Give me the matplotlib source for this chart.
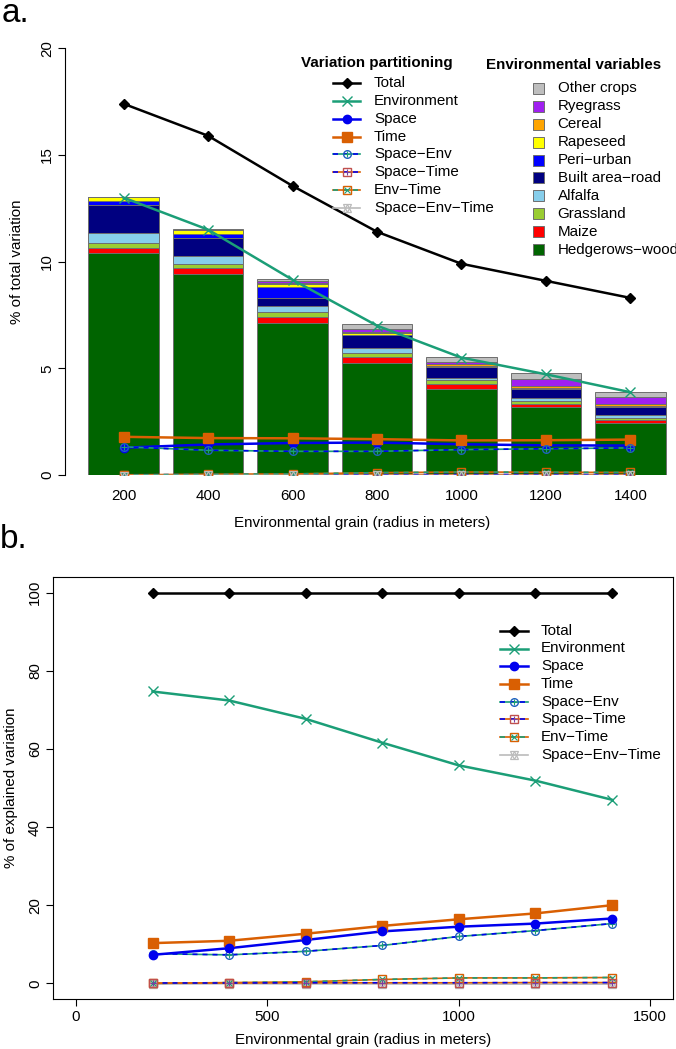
import numpy as np
import matplotlib.pyplot as plt
from matplotlib.patches import Rectangle

plt.rcParams['font.family'] = ['Liberation Sans', 'DejaVu Sans']
FS = 10.9

grain = [200, 400, 600, 800, 1000, 1200, 1400]

# panel a: % of total variation (lines)
total_a = [17.4, 15.9, 13.55, 11.4, 9.9, 9.1, 8.3]
env_a = [13.0, 11.5, 9.15, 7.0, 5.5, 4.72, 3.88]
space_a = [1.28, 1.43, 1.50, 1.52, 1.44, 1.39, 1.38]
time_a = [1.79, 1.73, 1.72, 1.68, 1.62, 1.63, 1.66]
space_env_a = [1.32, 1.16, 1.11, 1.11, 1.19, 1.23, 1.27]
space_time_a = [0.01, 0.02, 0.02, 0.02, 0.02, 0.02, 0.02]
env_time_a = [0.0, 0.03, 0.05, 0.11, 0.14, 0.13, 0.12]
space_env_time_a = [-0.03, -0.02, -0.02, -0.02, -0.02, -0.02, -0.02]

# panel a: environmental variables (stacked bars, bottom to top)
hedgerows = [10.40, 9.41, 7.14, 5.26, 4.03, 3.21, 2.46]
maize = [0.22, 0.27, 0.28, 0.28, 0.24, 0.13, 0.12]
grassland = [0.24, 0.23, 0.24, 0.18, 0.17, 0.14, 0.08]
alfalfa = [0.48, 0.36, 0.26, 0.24, 0.10, 0.13, 0.16]
built = [1.33, 0.82, 0.36, 0.58, 0.50, 0.43, 0.39]
periurban = [0.16, 0.20, 0.55, 0.03, 0.02, 0.02, 0.02]
rapeseed = [0.19, 0.19, 0.14, 0.10, 0.04, 0.02, 0.02]
cereal = [0.0, 0.02, 0.04, 0.05, 0.08, 0.08, 0.10]
ryegrass = [0.0, 0.0, 0.08, 0.12, 0.12, 0.36, 0.30]
other_crops = [0.02, 0.05, 0.08, 0.24, 0.22, 0.24, 0.24]

layers = [
    ('Hedgerows\u2212wood', hedgerows, '#006400'),
    ('Maize', maize, '#FF0000'),
    ('Grassland', grassland, '#9ACD32'),
    ('Alfalfa', alfalfa, '#87CEEB'),
    ('Built area\u2212road', built, '#000080'),
    ('Peri\u2212urban', periurban, '#0000FF'),
    ('Rapeseed', rapeseed, '#FFFF00'),
    ('Cereal', cereal, '#FFA500'),
    ('Ryegrass', ryegrass, '#A020F0'),
    ('Other crops', other_crops, '#BEBEBE'),
]

# panel b: % of explained variation
total_b = [100, 100, 100, 100, 100, 100, 100]
env_b = [74.7, 72.4, 67.7, 61.6, 55.8, 51.9, 47.0]
space_b = [7.3, 9.0, 11.1, 13.3, 14.5, 15.3, 16.6]
time_b = [10.3, 10.9, 12.7, 14.7, 16.4, 17.9, 20.0]
space_env_b = [7.6, 7.3, 8.2, 9.7, 12.0, 13.5, 15.3]
space_time_b = [0.1, 0.1, 0.15, 0.15, 0.15, 0.2, 0.2]
env_time_b = [0.0, 0.2, 0.4, 1.0, 1.4, 1.4, 1.5]
space_env_time_b = [-0.2, -0.1, -0.15, -0.15, -0.2, -0.2, -0.2]

names = ['Total', 'Environment', 'Space', 'Time',
         'Space\u2212Env', 'Space\u2212Time', 'Env\u2212Time', 'Space\u2212Env\u2212Time']

TEAL, BLUE, ORANGE, GREY = '#1B9E77', '#0000EE', '#D95F02', '#BBBBBB'
DASH = (0, (3, 3))
styles = {
    'Total': ([('black', '-', 1.8)],
              [dict(marker='D', ms=5, mfc='black', mec='black')]),
    'Environment': ([(TEAL, '-', 1.8)],
                    [dict(marker='x', ms=7, mec=TEAL, mew=1.0)]),
    'Space': ([(BLUE, '-', 1.8)],
              [dict(marker='o', ms=6, mfc=BLUE, mec=BLUE)]),
    'Time': ([(ORANGE, '-', 1.8)],
             [dict(marker='s', ms=6.5, mfc=ORANGE, mec=ORANGE)]),
    'Space\u2212Env': ([(TEAL, '-', 1.2), (BLUE, DASH, 1.2)],
                       [dict(marker='o', ms=5.5, mfc='none', mec='#2060C0', mew=1.0),
                        dict(marker='+', ms=4, mec=TEAL, mew=0.8)]),
    'Space\u2212Time': ([(ORANGE, '-', 1.2), (BLUE, DASH, 1.2)],
                        [dict(marker='s', ms=5.5, mfc='none', mec='#C0504D', mew=1.0),
                         dict(marker='+', ms=4, mec='#7B3FA0', mew=0.8)]),
    'Env\u2212Time': ([(ORANGE, '-', 1.2), (TEAL, DASH, 1.2)],
                      [dict(marker='s', ms=5.5, mfc='none', mec=ORANGE, mew=1.0),
                       dict(marker='x', ms=4, mec=TEAL, mew=0.8)]),
    'Space\u2212Env\u2212Time': ([(GREY, '-', 1.2)],
                                 [dict(marker='^', ms=6, mfc='none', mec=GREY, mew=0.9),
                                  dict(marker='v', ms=6, mfc='none', mec=GREY, mew=0.9)]),
}


def draw(ax, x, y, name, mx=None, my=None, z=5):
    lines, markers = styles[name]
    for color, ls, lw in lines:
        ax.plot(x, y, color=color, ls=ls, lw=lw, zorder=z)
    mx = x if mx is None else mx
    my = y if my is None else my
    for mk in markers:
        ax.plot(mx, my, ls='none', zorder=z + 0.1, **mk)


W, H = 676, 1049
fig = plt.figure(figsize=(W / 100, H / 100), dpi=100)


def box(left, top, right, bottom):
    return [left / W, 1 - bottom / H, (right - left) / W, (bottom - top) / H]


# ---- panel a ----
ax1 = fig.add_axes(box(65.3, 48.3, 676, 475))
pos = 0.7 + 1.2 * np.arange(len(grain))
bottom = np.zeros(len(grain))
for label, vals, color in layers:
    ax1.bar(pos, vals, width=1.0, bottom=bottom, color=color,
            edgecolor='#6E6E6E', linewidth=0.7, zorder=2)
    bottom += np.array(vals)

series_a = [total_a, env_a, space_a, time_a, space_env_a,
            space_time_a, env_time_a, space_env_time_a]
for name, vals in zip(names, series_a):
    draw(ax1, pos, vals, name)

ax1.set_xlim(-0.128, 8.547)
ax1.set_ylim(0, 20)
for s in ['top', 'right', 'bottom']:
    ax1.spines[s].set_visible(False)
ax1.spines['left'].set_bounds(0, 20)
ax1.spines['left'].set_linewidth(0.8)
ax1.set_yticks([0, 5, 10, 15, 20])
ax1.set_yticklabels(['0', '5', '10', '15', '20'], rotation=90, va='center', fontsize=FS)
ax1.tick_params(axis='y', length=5, width=0.8, pad=3)
ax1.set_xticks(pos)
ax1.set_xticklabels([str(g) for g in grain], fontsize=FS)
ax1.tick_params(axis='x', length=0, pad=10)
ax1.patch.set_visible(False)

# ---- panel b ----
ax2 = fig.add_axes(box(53, 577, 673, 999))
series_b = [total_b, env_b, space_b, time_b, space_env_b,
            space_time_b, env_time_b, space_env_time_b]
for name, vals in reversed(list(zip(names, series_b))):
    draw(ax2, grain, vals, name)
ax2.set_xlim(-60, 1560)
ax2.set_ylim(-4, 104)
ax2.set_xticks([0, 500, 1000, 1500])
ax2.set_xticklabels(['0', '500', '1000', '1500'], fontsize=FS)
ax2.set_yticks([0, 20, 40, 60, 80, 100])
ax2.set_yticklabels(['0', '20', '40', '60', '80', '100'], rotation=90, va='center', fontsize=FS)
ax2.tick_params(length=5, width=0.8, pad=3)
for s in ax2.spines.values():
    s.set_linewidth(0.8)

# ---- overlay in pixel coordinates: labels and legends ----
lax = fig.add_axes([0, 0, 1, 1])
lax.set_xlim(0, W)
lax.set_ylim(H, 0)
lax.axis('off')

lax.text(2, 22, 'a.', fontsize=24, ha='left', va='baseline')
lax.text(0, 548, 'b.', fontsize=24, ha='left', va='baseline')

lax.text(362, 523, 'Environmental grain (radius in meters)', fontsize=FS, ha='center', va='center')
lax.text(17, 262, '% of total variation', fontsize=FS, ha='center', va='center', rotation=90)
lax.text(363, 1040, 'Environmental grain (radius in meters)', fontsize=FS, ha='center', va='center')
lax.text(11, 788, '% of explained variation', fontsize=FS, ha='center', va='center', rotation=90)

# legend: variation partitioning (panel a)
lax.text(377, 63, 'Variation partitioning', fontsize=FS, fontweight='bold', ha='center', va='center')
row_y = 83.3 + 17.77 * np.arange(len(names))
for name, yy in zip(names, row_y):
    draw(lax, [333, 360], [yy, yy], name, mx=[346.5], my=[yy], z=8)
    lax.text(374, yy, name, fontsize=FS, ha='left', va='center', zorder=9)

# legend: environmental variables (panel a)
lax.text(485.5, 65, 'Environmental variables', fontsize=FS, fontweight='bold', ha='left', va='center')
env_rows = 88.3 + 17.93 * np.arange(len(layers))
for (label, vals, color), yy in zip(reversed(layers), env_rows):
    lax.add_patch(Rectangle((533, yy - 5.5), 11, 11, facecolor=color,
                            edgecolor='#6E6E6E', lw=0.7, zorder=8))
    lax.text(557.5, yy, label, fontsize=FS, ha='left', va='center', zorder=9)

# legend panel b
row_b = 630.8 + 17.7 * np.arange(len(names))
for name, yy in zip(names, row_b):
    draw(lax, [500, 528], [yy, yy], name, mx=[514], my=[yy], z=8)
    lax.text(541, yy, name, fontsize=FS, ha='left', va='center', zorder=9)

fig.savefig('out.png', dpi=100)
